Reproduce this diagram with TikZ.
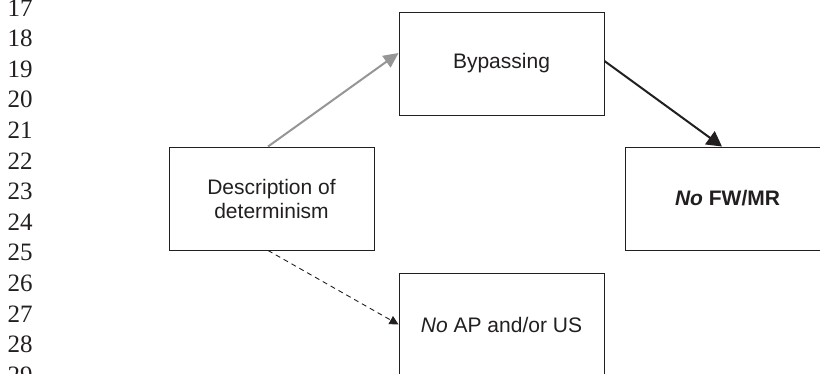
\documentclass[tikz,border=0pt]{standalone}
\usepackage{fontspec}
\setmainfont{Liberation Sans}
\newfontfamily\numfont{Liberation Serif}
\usetikzlibrary{arrows.meta}
\definecolor{inkc}{RGB}{35,31,32}
\definecolor{greyarrow}{RGB}{150,150,152}
\tikzset{
  boxnode/.style={draw=inkc, line width=0.9pt, rectangle, minimum width=205pt, minimum height=103pt, inner sep=0pt, align=center, text=inkc, font=\fontsize{21}{24}\selectfont},
  linenum/.style={anchor=base west, inner sep=0pt, text=inkc, font=\numfont\fontsize{25}{25}\selectfont},
  greyconn/.style={draw=greyarrow, line width=2pt, -{Triangle[length=15pt,width=14pt]}},
  blackconn/.style={draw=inkc, line width=2pt, -{Triangle[length=15pt,width=16pt]}},
  dashconn/.style={draw=inkc, line width=0.9pt, dash pattern=on 5pt off 4pt, -{Triangle[length=9pt,width=9pt]}}
}
\begin{document}
\begin{tikzpicture}[x=1pt,y=-1pt]
\clip (0,0) rectangle (820,373);
\fill[white] (0,0) rectangle (820,373);
% line numbers
\foreach \n [count=\i from 0] in {17,...,29} {
  \node[linenum] (ln\n) at (7.5,{16.1+30.6*\i}) {\n};
}
% boxes
\node[boxnode] (desc) at (271.5,198.5) {Description of\\determinism};
\node[boxnode] (byp) at (501.5,63.5) {Bypassing};
\node[boxnode] (fwmr) at (727.5,198.5) {\textbf{\textit{No} FW/MR}};
\node[boxnode] (apus) at (501.5,324.5) {\textit{No} AP and/or US};
% connectors
\coordinate (bypin) at ([yshift=10.5pt]byp.west);
\coordinate (descout) at ([xshift=-3.5pt]desc.north);
\coordinate (descdown) at ([xshift=-3.5pt]desc.south);
\coordinate (bypout) at ([yshift=2.5pt]byp.east);
\coordinate (fwin) at ([xshift=-5.5pt]fwmr.north);
\draw[greyconn] (descout) -- (bypin);
\draw[blackconn] (bypout) -- (fwin);
\draw[dashconn] (descdown) -- (apus.west);
\end{tikzpicture}
\end{document}
